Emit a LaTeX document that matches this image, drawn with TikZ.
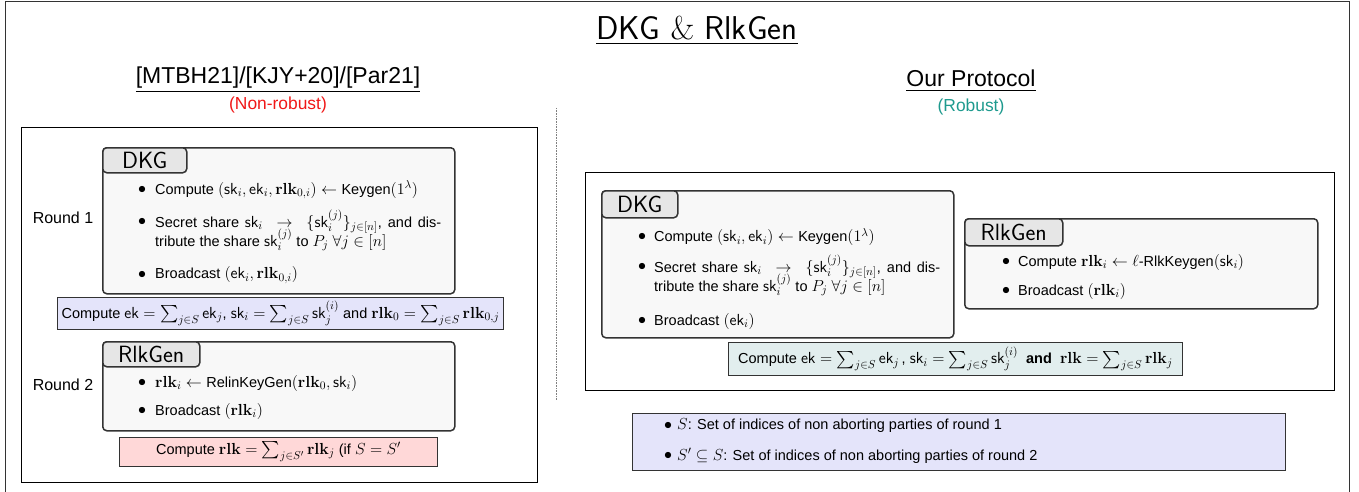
\RequirePackage{fix-cm}
\documentclass[tikz,border=0pt]{standalone}
\usepackage{amsmath}
\usepackage[no-math]{fontspec}
\setmainfont{Liberation Sans}
\DeclareMathSizes{14.5}{16}{11.5}{9}
\usetikzlibrary{positioning}

\definecolor{framegray}{HTML}{333333}
\definecolor{blockfill}{HTML}{F8F8F8}
\definecolor{tabfill}{HTML}{E6E6E6}
\definecolor{lavender}{HTML}{E4E4FA}
\definecolor{pinkfill}{HTML}{FFD8D8}
\definecolor{tealfill}{HTML}{E2EEEE}
\definecolor{robustteal}{HTML}{1E9A8E}
\definecolor{nonrobustred}{HTML}{F01818}

\newcommand{\sk}{\mathsf{sk}}
\newcommand{\ek}{\mathsf{ek}}
\newcommand{\rlk}{\mathbf{rlk}}
\newcommand{\bodysize}{\fontsize{14.5}{19}\selectfont}
% two-line bullet text with a fixed line pitch
\newcommand{\shareitem}{\parbox[t]{286pt}{\bodysize\lineskiplimit=-30pt
  Secret share $\sk_i\ \rightarrow\ \{\sk_i^{(j)}\}_{j\in[n]}$, and dis-\linebreak
  tribute the share $\sk_i^{(j)}$ to $P_j\ \forall j\in[n]$}}

\tikzset{
  panel/.style={draw=black, line width=0.9pt, inner sep=0pt},
  block/.style={draw=framegray, line width=1.5pt, rounded corners=4pt, fill=blockfill, inner sep=0pt},
  tabbox/.style={draw=framegray, line width=1.5pt, rounded corners=4pt, fill=tabfill, inner sep=0pt,
    font=\sffamily\fontsize{23.5}{26}\selectfont},
  sumbox/.style={draw=framegray, line width=1pt, inner sep=0pt},
  body/.style={font=\bodysize, inner sep=0pt},
  bulletmark/.style={font=\bodysize, inner sep=0pt},
  roundlabel/.style={font=\fontsize{16}{18}\selectfont, inner sep=0pt},
  heading/.style={font=\fontsize{23}{27}\selectfont, inner sep=0pt},
  subheading/.style={font=\fontsize{17.4}{20}\selectfont, inner sep=0pt},
}

\begin{document}
\begin{tikzpicture}[x=1pt,y=-1pt]
\useasboundingbox (0,0) rectangle (1359,492);

% outer frame
\coordinate (fbl) at (5,492);
\coordinate (ftl) at (5,2);
\coordinate (ftr) at (1349,2);
\coordinate (fbr) at (1349,492);
\draw[line width=1pt, draw=black!80] (fbl) -- (ftl) -- (ftr) -- (fbr);

% title
\node[inner sep=0pt, font=\sffamily\fontsize{33}{38}\selectfont] (title) at (697,31)
  {\underline{DKG $\&$ RlkGen}};

% column headings
\node[heading] (lhead) at (278,80) {\underline{[MTBH21]/[KJY+20]/[Par21]}};
\node[subheading, text=nonrobustred] (lsub) at (278,105) {(Non-robust)};
\node[heading] (rhead) at (971,81) {\underline{Our Protocol}};
\node[subheading, text=robustteal] (rsub) at (971,107) {(Robust)};

% dotted separator
\coordinate (septop) at (556,108);
\coordinate (sepbot) at (556,400);
\draw[densely dotted, draw=black!50, line width=0.6pt] (septop) -- (sepbot);

% ================= left column =================
\node[panel, minimum width=516, minimum height=355, anchor=north west] (lpanel) at (21,127) {};

% DKG block
\node[block, minimum width=352, minimum height=146, anchor=north west] (ldkg) at (102,147) {};
\node[tabbox, minimum width=84, minimum height=25, anchor=north west] (ldkgtab) at (ldkg.north west) {DKG};
\node[roundlabel] (round1) at (63,218) {Round 1};

\node[bulletmark] (lb1) at (142,190) {$\bullet$};
\node[body, anchor=west] (lt1) at (155,190)
  {Compute $(\sk_i,\ek_i,\rlk_{0,i})\leftarrow\text{Keygen}(1^\lambda)$};
\node[bulletmark] (lb2) at (142,222) {$\bullet$};
\node[body, anchor=base west] (lt2) at (155,227) {\shareitem};
\node[bulletmark] (lb3) at (142,275) {$\bullet$};
\node[body, anchor=west] (lt3) at (155,275) {Broadcast $(\ek_i,\rlk_{0,i})$};

% aggregation after round 1
\node[sumbox, fill=lavender, minimum width=446, minimum height=32, anchor=north west] (lsum1) at (57,297) {};
\node[body] (lsum1t) at (lsum1.center)
  {Compute $\ek=\sum_{j\in S}\ek_j$, $\sk_i=\sum_{j\in S}\sk_j^{(i)}$ and $\rlk_0=\sum_{j\in S}\rlk_{0,j}$};

% RlkGen block
\node[block, minimum width=352, minimum height=89, anchor=north west] (lrlk) at (102,341) {};
\node[tabbox, minimum width=97, minimum height=25, anchor=north west] (lrlktab) at (lrlk.north west) {RlkGen};
\node[roundlabel] (round2) at (63,385) {Round 2};

\node[bulletmark] (lb4) at (142,383) {$\bullet$};
\node[body, anchor=west] (lt4) at (155,383) {$\rlk_i\leftarrow\text{RelinKeyGen}(\rlk_0,\sk_i)$};
\node[bulletmark] (lb5) at (142,411) {$\bullet$};
\node[body, anchor=west] (lt5) at (155,411) {Broadcast $(\rlk_i)$};

% aggregation after round 2
\node[sumbox, fill=pinkfill, minimum width=318, minimum height=29, anchor=north west] (lsum2) at (119,437) {};
\node[body] (lsum2t) at (lsum2.center) {Compute $\rlk=\sum_{j\in S'}\rlk_j$ (if $S=S'$};

% ================= right column =================
\node[panel, minimum width=749, minimum height=218, anchor=north west] (rpanel) at (585,172) {};

% DKG block
\node[block, minimum width=352, minimum height=147, anchor=north west] (rdkg) at (601,190) {};
\node[tabbox, minimum width=76, minimum height=27, anchor=north west] (rdkgtab) at (rdkg.north west) {DKG};

\node[bulletmark] (rb1) at (642,237) {$\bullet$};
\node[body, anchor=west] (rt1) at (654,237) {Compute $(\sk_i,\ek_i)\leftarrow\text{Keygen}(1^\lambda)$};
\node[bulletmark] (rb2) at (642,267) {$\bullet$};
\node[body, anchor=base west] (rt2) at (654,272) {\shareitem};
\node[bulletmark] (rb3) at (642,321) {$\bullet$};
\node[body, anchor=west] (rt3) at (654,321) {Broadcast $(\ek_i)$};

% RlkGen block
\node[block, minimum width=353, minimum height=90, anchor=north west] (rrlk) at (964,218) {};
\node[tabbox, minimum width=98, minimum height=27, anchor=north west] (rrlktab) at (rrlk.north west) {RlkGen};

\node[bulletmark] (rb4) at (1006,262) {$\bullet$};
\node[body, anchor=west] (rt4) at (1018,262) {Compute $\rlk_i\leftarrow\ell\text{-RlkKeygen}(\sk_i)$};
\node[bulletmark] (rb5) at (1006,291) {$\bullet$};
\node[body, anchor=west] (rt5) at (1018,291) {Broadcast $(\rlk_i)$};

% aggregation
\node[sumbox, fill=tealfill, minimum width=454, minimum height=33, anchor=north west] (rsum) at (728,342) {};
\node[body] (rsumt) at (rsum.center)
  {Compute $\ek=\sum_{j\in S}\ek_j$\,, $\sk_i=\sum_{j\in S}\sk_j^{(i)}$\ \ \textbf{and}\ \ $\rlk=\sum_{j\in S}\rlk_j$};

% notation legend
\node[sumbox, fill=lavender, minimum width=653, minimum height=57, anchor=north west] (legend) at (632,413) {};
\node[bulletmark] (gb1) at (668,426) {$\bullet$};
\node[body, anchor=west] (gt1) at (677,426) {$S$: Set of indices of non aborting parties of round 1};
\node[bulletmark] (gb2) at (668,456) {$\bullet$};
\node[body, anchor=west] (gt2) at (677,456) {$S'\subseteq S$: Set of indices of non aborting parties of round 2};

\end{tikzpicture}
\end{document}
